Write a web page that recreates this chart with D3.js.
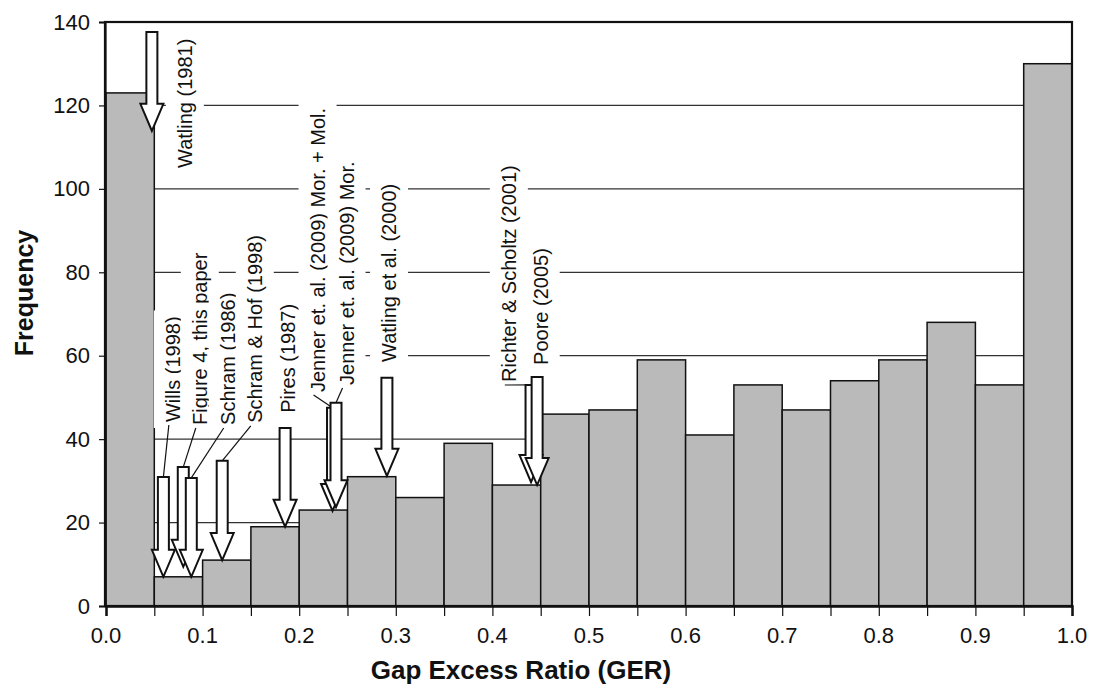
<!DOCTYPE html>
<html lang="en">
<head>
  <meta charset="UTF-8">
  <title>Gap Excess Ratio histogram</title>
  <style>
    body { margin: 0; background: #fff; }
    text { font-family: "Liberation Sans", Arial, Helvetica, sans-serif; fill: #111; }
  </style>
</head>
<body>
  <script src="https://d3js.org/d3.v7.min.js"></script>
  <script>
    // Histogram bins (lower edge of each 0.05 bin) and counts
    let binStarts = [0.00, 0.05, 0.10, 0.15, 0.20, 0.25, 0.30, 0.35, 0.40, 0.45,
                     0.50, 0.55, 0.60, 0.65, 0.70, 0.75, 0.80, 0.85, 0.90, 0.95];
    let frequency = [123, 7, 11, 19, 23, 31, 26, 39, 29, 46,
                     47, 59, 41, 53, 47, 54, 59, 68, 53, 130];
    let binWidth = 0.05;

    let yTicks = [0, 20, 40, 60, 80, 100, 120, 140];
    let gridValues = [20, 40, 60, 80, 100, 120];
    let xMinorTicks = [0.00, 0.05, 0.10, 0.15, 0.20, 0.25, 0.30, 0.35, 0.40, 0.45, 0.50,
                       0.55, 0.60, 0.65, 0.70, 0.75, 0.80, 0.85, 0.90, 0.95, 1.00];
    let xTickLabels = [0.0, 0.1, 0.2, 0.3, 0.4, 0.5, 0.6, 0.7, 0.8, 0.9, 1.0];

    // Published GER values, marked by arrows (arrow top / tip in frequency units)
    let refNames = ["Watling (1981)", "Wills (1998)", "Figure 4, this paper", "Schram (1986)",
                    "Schram & Hof (1998)", "Pires (1987)", "Jenner et. al. (2009) Mor. + Mol.",
                    "Jenner et. al. (2009) Mor.", "Watling et al. (2000)",
                    "Richter & Scholtz (2001)", "Poore (2005)"];
    let refGER      = [0.0475, 0.0594, 0.0800, 0.0883, 0.1203, 0.1854, 0.2345, 0.2381, 0.2908, 0.4400, 0.4463];
    let refArrowTop = [137.6, 30.9, 33.3, 30.7, 34.8, 42.7, 47.5, 48.7, 54.7, 53.0, 54.9];
    let refArrowTip = [113.9, 7.0, 9.4, 7.0, 11.0, 19.0, 22.8, 23.7, 31.2, 29.7, 29.0];
    let refLeader   = [false, true, true, true, true, false, true, true, false, true, false];

    // Where each rotated label starts (GER, frequency)
    let labelAt = [[0.0816, 105.0], [0.0692, 44.1], [0.0971, 43.4], [0.1260, 43.4],
                   [0.1540, 43.9], [0.1880, 46.3], [0.2190, 51.3], [0.2490, 53.0],
                   [0.2930, 58.5], [0.4170, 53.7], [0.4500, 57.8]];

    let svgWidth = 1093;
    let svgHeight = 684;
    let margin = { top: 22, right: 21, bottom: 78, left: 105 };

    let svg = d3.select("body")
      .append("svg")
      .attr("width", svgWidth)
      .attr("height", svgHeight);

    let x = d3.scaleLinear().domain([0, 1]).range([margin.left + 1, svgWidth - margin.right]);
    let y = d3.scaleLinear().domain([0, 140]).range([svgHeight - margin.bottom, margin.top]);

    // Grid lines
    svg.append("g")
      .selectAll("line")
      .data(gridValues)
      .enter()
      .append("line")
      .attr("x1", x(0))
      .attr("x2", x(1))
      .attr("y1", d => y(d))
      .attr("y2", d => y(d))
      .attr("stroke", "#333")
      .attr("stroke-width", 1.2);

    // Bars
    svg.append("g")
      .selectAll("rect")
      .data(frequency)
      .enter()
      .append("rect")
      .attr("x", (d, i) => x(binStarts[i]))
      .attr("y", d => y(d))
      .attr("width", (d, i) => x(binStarts[i] + binWidth) - x(binStarts[i]))
      .attr("height", d => y(0) - y(d))
      .attr("fill", "#bababa")
      .attr("stroke", "#111")
      .attr("stroke-width", 1.5);

    // Frame
    svg.append("rect")
      .attr("x", x(0) - 1)
      .attr("y", y(140))
      .attr("width", x(1) - x(0) + 1)
      .attr("height", y(0) - y(140))
      .attr("fill", "none")
      .attr("stroke", "#111")
      .attr("stroke-width", 2.2);

    // Y axis
    let yAxis = d3.axisLeft(y)
      .tickValues(yTicks)
      .tickSize(6)
      .tickPadding(9)
      .tickFormat(d3.format("d"));
    let yG = svg.append("g")
      .attr("transform", `translate(${x(0) - 1}, 0)`)
      .call(yAxis);
    yG.select(".domain").attr("stroke", "#111").attr("stroke-width", 2.2);
    yG.selectAll(".tick line").attr("stroke", "#111").attr("stroke-width", 1.2);
    yG.selectAll(".tick text").style("font-size", "22px").attr("fill", "#111");

    // X axis: ticks every 0.05, labels every 0.1
    let xAxis = d3.axisBottom(x)
      .tickValues(xMinorTicks)
      .tickSize(10)
      .tickFormat("");
    let xG = svg.append("g")
      .attr("transform", `translate(0, ${y(0)})`)
      .call(xAxis);
    xG.select(".domain").attr("stroke", "#111").attr("stroke-width", 2.5);
    xG.selectAll(".tick line").attr("stroke", "#111").attr("stroke-width", 1.2);

    svg.append("g")
      .selectAll("text")
      .data(xTickLabels)
      .enter()
      .append("text")
      .attr("x", d => x(d))
      .attr("y", y(0) + 37)
      .attr("text-anchor", "middle")
      .style("font-size", "22px")
      .text(d => d3.format(".1f")(d));

    // Axis titles
    svg.append("text")
      .attr("x", 521)
      .attr("y", 679)
      .attr("text-anchor", "middle")
      .style("font-size", "26px")
      .style("font-weight", "bold")
      .text("Gap Excess Ratio (GER)");

    svg.append("text")
      .attr("transform", "translate(33, 293) rotate(-90)")
      .attr("text-anchor", "middle")
      .style("font-size", "25px")
      .style("font-weight", "bold")
      .text("Frequency");

    // Annotation labels with white boxes
    let labelGroup = svg.append("g");
    let labels = labelGroup.selectAll("g")
      .data(refNames)
      .enter()
      .append("g")
      .attr("transform", (d, i) => `translate(${x(labelAt[i][0])}, ${y(labelAt[i][1])}) rotate(-90)`);

    labels.append("rect").attr("fill", "#fff");
    labels.append("text")
      .attr("x", 0)
      .attr("y", 0)
      .attr("dominant-baseline", "central")
      .style("font-size", "20px")
      .text(d => d);

    labels.each(function() {
      let g = d3.select(this);
      let bb = g.select("text").node().getBBox();
      g.select("rect")
        .attr("x", bb.x - 6)
        .attr("y", bb.y - 8)
        .attr("width", bb.width + 12)
        .attr("height", bb.height + 16);
    });

    // Leader lines from labels to arrows
    svg.append("g")
      .selectAll("line")
      .data(refNames.map((d, i) => i).filter(i => refLeader[i]))
      .enter()
      .append("line")
      .attr("x1", i => x(labelAt[i][0]) - 4)
      .attr("y1", i => y(labelAt[i][1]) + 3)
      .attr("x2", i => x(refGER[i]))
      .attr("y2", i => y(refArrowTop[i]))
      .attr("stroke", "#111")
      .attr("stroke-width", 1.2);

    // Block arrows
    let shaft = 11, head = 23, headLen = 27;
    function arrowPath(i) {
      let cx = x(refGER[i]);
      let top = y(refArrowTop[i]);
      let tip = y(refArrowTip[i]);
      let hb = tip - headLen;
      let pts = [
        [cx - shaft / 2, top], [cx + shaft / 2, top], [cx + shaft / 2, hb],
        [cx + head / 2, hb], [cx, tip], [cx - head / 2, hb], [cx - shaft / 2, hb]
      ];
      return "M" + pts.map(p => p.join(",")).join("L") + "Z";
    }

    svg.append("g")
      .selectAll("path")
      .data(refNames.map((d, i) => i))
      .enter()
      .append("path")
      .attr("d", i => arrowPath(i))
      .attr("fill", "#fff")
      .attr("stroke", "#111")
      .attr("stroke-width", 2)
      .attr("stroke-linejoin", "miter");
  </script>
</body>
</html>
